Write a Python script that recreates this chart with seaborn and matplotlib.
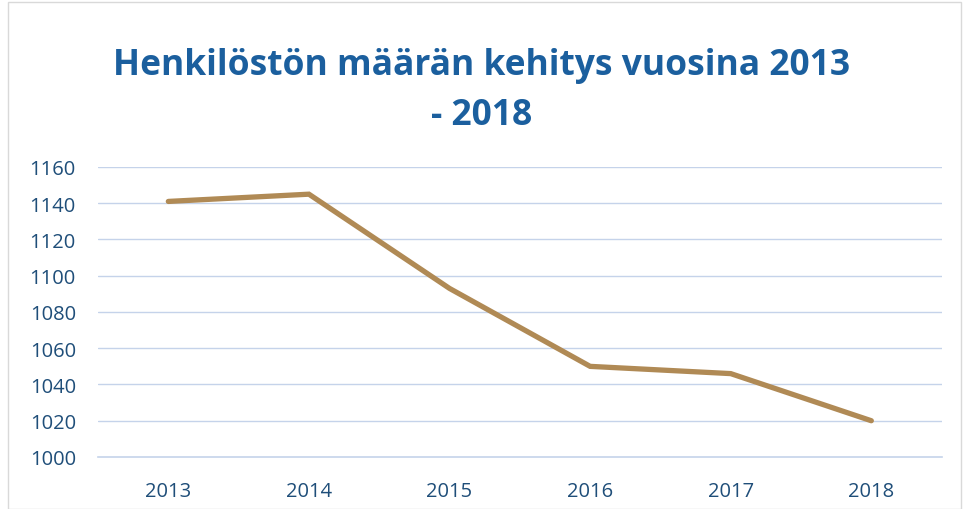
import matplotlib
matplotlib.use("Agg")
import matplotlib.pyplot as plt
import seaborn as sns
import pandas as pd
from matplotlib.patches import Rectangle

years = ["2013", "2014", "2015", "2016", "2017", "2018"]
staff = [1141, 1145, 1093, 1050, 1046, 1020]
y_ticks = [1000, 1020, 1040, 1060, 1080, 1100, 1120, 1140, 1160]

sns.set_theme(style="white")
plt.rcParams['font.family'] = ['Open Sans', 'DejaVu Sans']

blue_txt = "#1f4e79"
title_col = "#1b5f9e"
line_col = "#b08a55"
grid_col = "#c5d3ea"

df = pd.DataFrame({"year": years, "staff": staff})

fig = plt.figure(figsize=(9.63, 5.10), dpi=100)
ax = fig.add_axes([0.1018, 0.102, 0.876, 0.5686])

sns.lineplot(data=df, x="year", y="staff", ax=ax, color=line_col,
             linewidth=3.8, solid_capstyle="round", solid_joinstyle="miter")

ax.set_xlim(-0.5, len(years) - 0.5)
ax.set_ylim(1000, 1160)
ax.set_yticks(y_ticks)
ax.set_xlabel("")
ax.set_ylabel("")

# light blue horizontal gridlines
for y in y_ticks[1:]:
    ax.axhline(y, color=grid_col, linewidth=1.0, zorder=0)

for s in ["top", "right", "left"]:
    ax.spines[s].set_visible(False)
ax.spines["bottom"].set_color(grid_col)
ax.spines["bottom"].set_linewidth(1.2)

ax.tick_params(axis="y", length=0, labelsize=14.5, labelcolor=blue_txt, pad=16)
ax.tick_params(axis="x", which="major", length=0, labelsize=14.5, labelcolor=blue_txt, pad=17)
# tick marks sit between the categories
ax.set_xticks([i - 0.5 for i in range(len(years) + 1)], minor=True)
ax.tick_params(axis="x", which="minor", length=6, color=grid_col, width=1.2, direction="out")

fig.text(0.5, 0.87, "Henkilöstön määrän kehitys vuosina 2013", ha="center", va="center",
         fontsize=25.5, fontweight="bold", color=title_col)
fig.text(0.5, 0.772, "- 2018", ha="center", va="center",
         fontsize=25.5, fontweight="bold", color=title_col)

fig.patches.append(Rectangle((0.008, 0.0), 0.99, 0.995, transform=fig.transFigure,
                             fill=False, edgecolor="#d9d9d9", linewidth=1.0))

fig.savefig("out.png", dpi=100)
